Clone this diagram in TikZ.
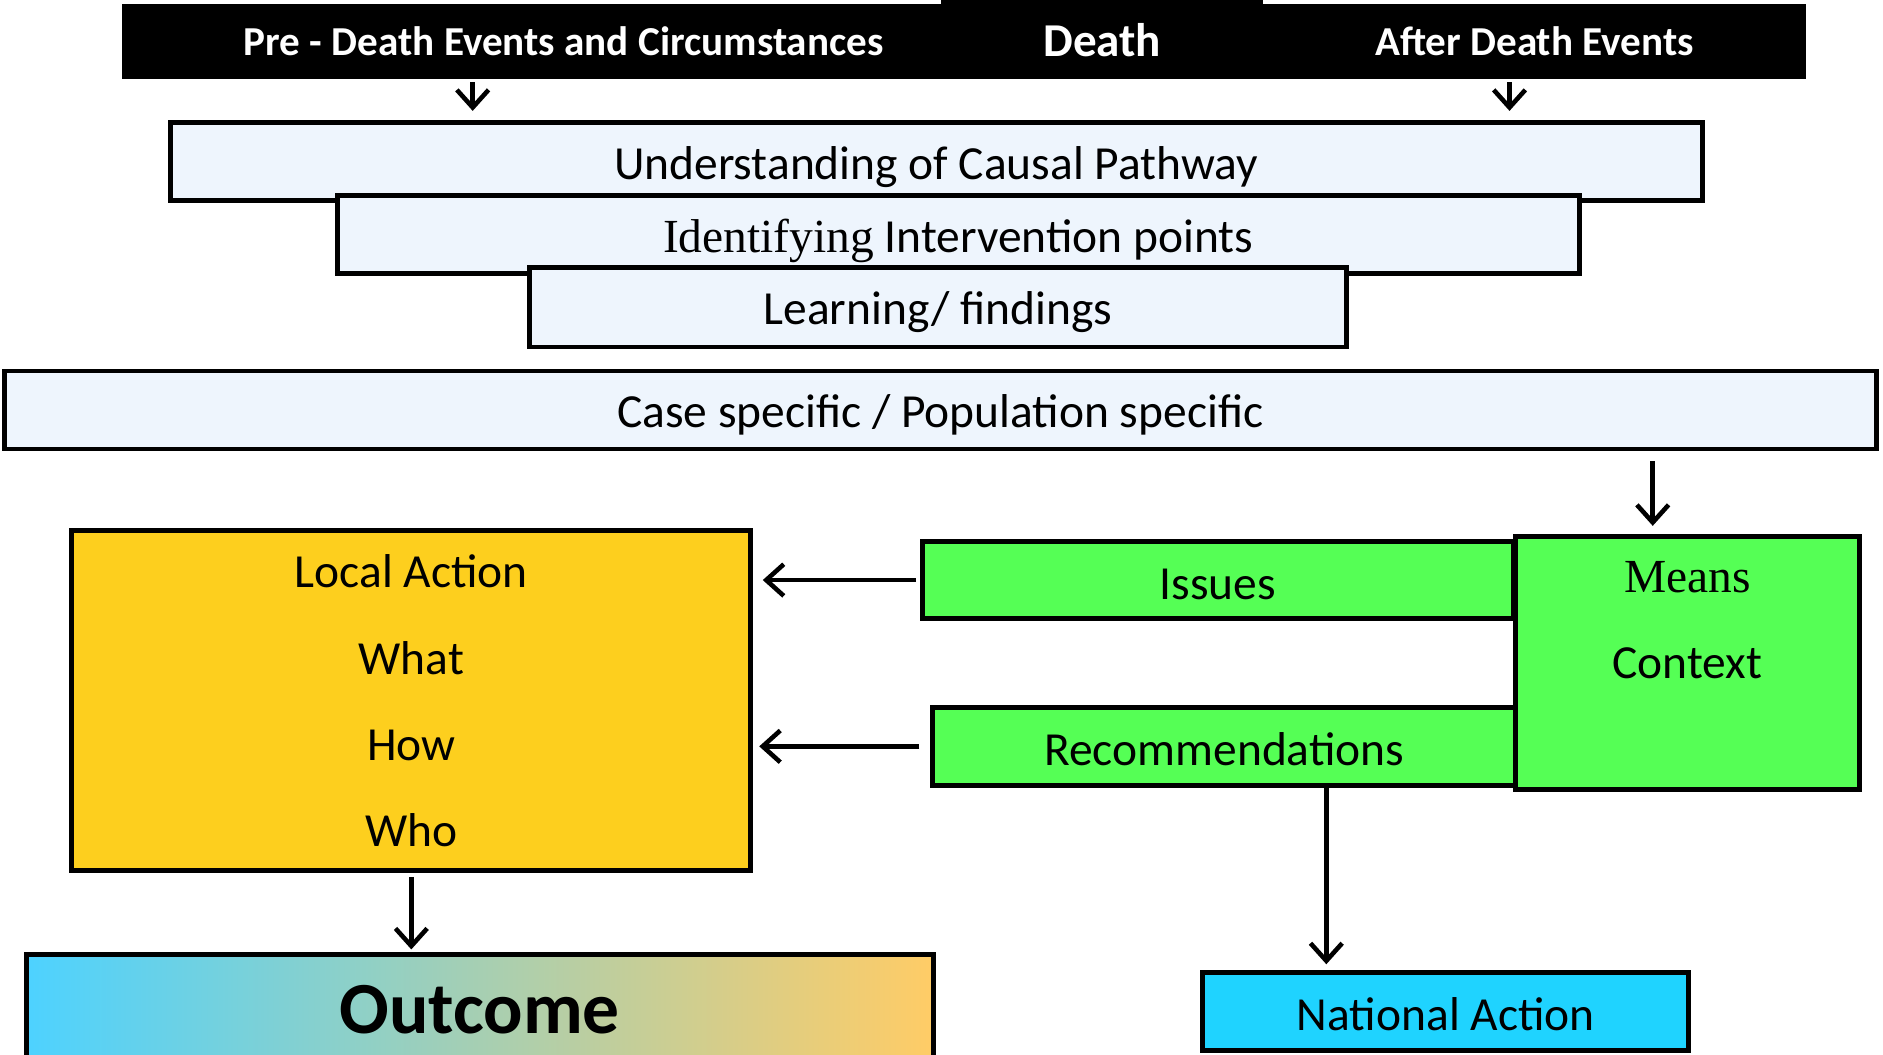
\documentclass[tikz,border=0pt]{standalone}
\usepackage{fontspec}
\setmainfont{Carlito}
\newfontfamily\timesface{Liberation Serif}
\usetikzlibrary{arrows.meta}

\definecolor{paleblue}{HTML}{EEF5FD}
\definecolor{actyellow}{HTML}{FDCF1E}
\definecolor{actgreen}{HTML}{55FF55}
\definecolor{natcyan}{HTML}{1FD3FF}
\definecolor{outleft}{HTML}{4DD2FF}
\definecolor{outright}{HTML}{FFCC66}

\begin{document}
\begin{tikzpicture}[x=0.01cm, y=-0.01cm,
  bar/.style={fill=black, text=white, inner sep=0pt, font=\bfseries\fontsize{11.7}{14}\selectfont},
  box/.style={draw, line width=1.4pt, inner sep=0pt, align=center, font=\fontsize{13.5}{16}\selectfont},
  lbox/.style={box, fill=paleblue, text height=11pt, text depth=1pt},
  gbox/.style={box, fill=actgreen},
  lowtext/.style={text height=12pt, text depth=1pt},
  arr/.style={line width=1.3pt, -{Straight Barb[length=5pt,width=9pt]}}]
\useasboundingbox (0,0) rectangle (1883,1054);

% top bar
\node[bar, minimum width=8.825cm, minimum height=0.757cm] (pre) at (563.75,41.45) {Pre - Death Events and Circumstances};
\node[bar, minimum width=5.43cm, minimum height=0.757cm] (after) at (1534.5,41.45) {After Death Events};
\node[bar, minimum width=3.215cm, minimum height=0.793cm, font=\bfseries\fontsize{13.4}{16}\selectfont] (death) at (1102.25,39.65) {Death};

% stacked boxes
\node[lbox, minimum width=15.31cm, minimum height=0.78cm] (under) at (936.1,161.5) {Understanding of Causal Pathway};
\node[lbox, minimum width=12.415cm, minimum height=0.781cm] (ident) at (958.25,234.75) {{\timesface Identifying} Intervention points};
\node[lbox, minimum width=8.164cm, minimum height=0.792cm] (learn) at (937.8,307.4) {Learning/ findings};
\node[lbox, minimum width=18.71cm, minimum height=0.78cm] (case) at (940.3,410) {Case specific / Population specific};

% actions
\node[box, fill=actyellow, minimum width=6.786cm, minimum height=3.399cm, font=\fontsize{13.5}{24.5}\selectfont] (local) at (411.3,700.75) {Local Action\\What\\How\\Who};
\node[gbox, minimum width=3.435cm, minimum height=2.522cm, font=\fontsize{13.5}{24.4}\selectfont] (means) at (1687.25,662.9) {{\timesface Means}\\Context\\\mbox{}};
\node[gbox, lowtext, minimum width=5.907cm, minimum height=0.769cm] (issues) at (1217.65,580.05) {Issues};
\node[gbox, lowtext, minimum width=5.825cm, minimum height=0.781cm] (recs) at (1224.25,746.35) {Recommendations};
\node[box, lowtext, fill=natcyan, minimum width=4.855cm, minimum height=0.773cm] (national) at (1445.75,1011.35) {National Action};
\node[box, left color=outleft, right color=outright, minimum width=9.066cm, minimum height=1.103cm, font=\bfseries\fontsize{20.9}{24}\selectfont] (outcome) at (479.7,1009.85) {Outcome};

% connectors
\coordinate (prefoot) at ([xshift=-0.91cm]pre.south);
\coordinate (afterfoot) at ([xshift=-0.25cm]after.south);
\coordinate (casefoot) at ([xshift=7.12cm]case.south);
\coordinate (recsfoot) at ([xshift=1.02cm]recs.south);
\draw[arr, shorten <=0.7pt, shorten >=2.6pt] (prefoot) -- (prefoot |- under.north);
\draw[arr, shorten <=0.7pt, shorten >=2.6pt] (afterfoot) -- (afterfoot |- under.north);
\draw[arr, shorten <=2.8pt, shorten >=2.4pt] (casefoot) -- (casefoot |- means.north);
\draw[arr, shorten <=1pt, shorten >=2.7pt] (issues.west) -- (issues.west -| local.east);
\draw[arr, shorten <=3.1pt, shorten >=1.7pt] (recs.west) -- (recs.west -| local.east);
\draw[arr, shorten >=1.7pt] (recsfoot) -- (recsfoot |- national.north);
\draw[arr, shorten <=1pt, shorten >=0.8pt] (local.south) -- (local.south |- outcome.north);
\end{tikzpicture}
\end{document}
